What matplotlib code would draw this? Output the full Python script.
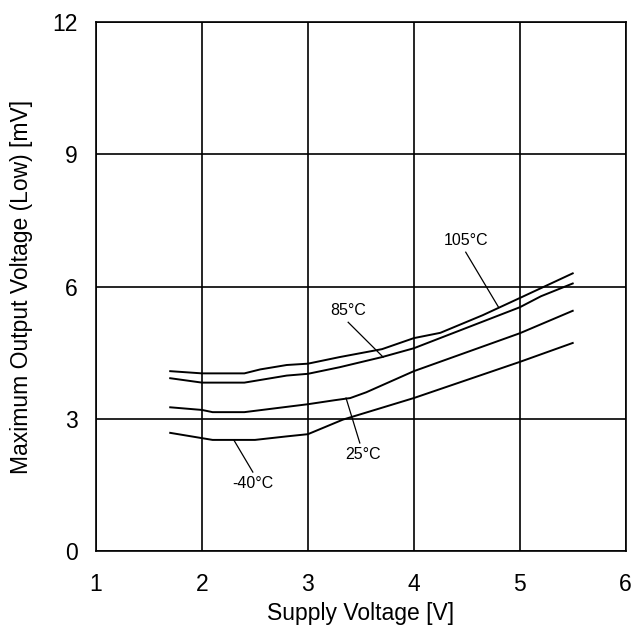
import matplotlib.pyplot as plt

plt.rcParams['font.family'] = ['Liberation Sans', 'DejaVu Sans']

# supply voltage [V] and max output voltage (low) [mV] per temperature
v_105 = [1.7, 2.0, 2.4, 2.55, 2.8, 3.0, 3.3, 3.7, 4.0, 4.25, 4.65, 5.0, 5.5]
y_105 = [4.08, 4.03, 4.03, 4.12, 4.22, 4.25, 4.40, 4.58, 4.83, 4.95, 5.35, 5.74, 6.30]

v_85 = [1.7, 2.0, 2.4, 2.8, 3.0, 3.3, 3.7, 4.0, 5.0, 5.2, 5.5]
y_85 = [3.92, 3.82, 3.82, 3.98, 4.02, 4.17, 4.40, 4.60, 5.53, 5.78, 6.07]

v_25 = [1.7, 2.0, 2.1, 2.4, 2.8, 3.0, 3.25, 3.4, 3.55, 4.0, 5.0, 5.5]
y_25 = [3.26, 3.20, 3.15, 3.15, 3.27, 3.33, 3.42, 3.47, 3.60, 4.08, 4.94, 5.45]

v_m40 = [1.7, 2.0, 2.1, 2.5, 2.8, 3.0, 3.33, 4.0, 5.0, 5.5]
y_m40 = [2.68, 2.56, 2.52, 2.52, 2.60, 2.65, 2.98, 3.47, 4.29, 4.72]

# label text, text position, leader line (from, to)
labels = ['105°C', '85°C', '25°C', '-40°C']
label_pos = [(4.49, 7.05), (3.38, 5.45), (3.52, 2.18), (2.48, 1.52)]
leader_start = [(4.49, 6.78), (3.38, 5.19), (3.49, 2.45), (2.48, 1.79)]
leader_end = [(4.80, 5.53), (3.71, 4.40), (3.36, 3.47), (2.30, 2.52)]

fig = plt.figure(figsize=(6.32, 6.34), dpi=100)
ax = fig.add_axes([0.152, 0.131, 0.838, 0.834])

for v, y in [(v_105, y_105), (v_85, y_85), (v_25, y_25), (v_m40, y_m40)]:
    ax.plot(v, y, color='black', linewidth=1.4)

for txt, p, s, e in zip(labels, label_pos, leader_start, leader_end):
    ax.plot([s[0], e[0]], [s[1], e[1]], color='black', linewidth=0.9)
    ax.text(p[0], p[1], txt, ha='center', va='center', fontsize=11.5)

ax.set_xlim(1, 6)
ax.set_ylim(0, 12)
ax.set_xticks([1, 2, 3, 4, 5, 6])
ax.set_yticks([0, 3, 6, 9, 12])
ax.grid(True, color='black', linewidth=1.2)
for sp in ax.spines.values():
    sp.set_linewidth(1.2)
ax.tick_params(length=0, labelsize=16.5)
ax.tick_params(axis='x', pad=16)
ax.tick_params(axis='y', pad=13)
ax.set_xlabel('Supply Voltage [V]', fontsize=16.5, labelpad=4)
ax.set_ylabel('Maximum Output Voltage (Low) [mV]', fontsize=16.5, labelpad=14)

fig.savefig('out.png', dpi=100)
